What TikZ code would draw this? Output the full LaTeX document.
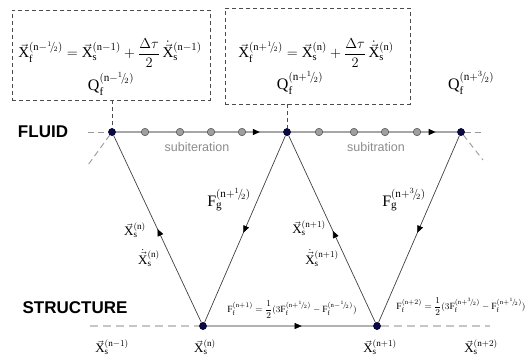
\documentclass[tikz,border=0pt]{standalone}
\usepackage{amsmath}
\usepackage{fontspec}
\setmainfont{Liberation Serif}
\setsansfont{Liberation Sans}
\usetikzlibrary{arrows.meta,decorations.markings}
\newcommand\vX{\vec{\mathrm{X}}}
\newcommand\dX{\dot{\vec{\mathrm{X}}}}
\newcommand\fr[2]{{}^{#1}\!/\!{}_{#2}}
\newcommand\nn{\mathrm{n}}
\definecolor{navy}{RGB}{10,10,70}
\begin{document}
\begin{tikzpicture}[x=1pt,y=-1pt,
  fnode/.style={circle,fill=navy,draw=navy!70!black,inner sep=0pt,minimum size=7pt},
  gdot/.style={circle,fill=gray!75,draw=gray!60!black,line width=0.5pt,inner sep=0pt,minimum size=7.5pt},
  dbox/.style={draw=black!70,dashed,dash pattern=on 4pt off 3pt,line width=0.8pt},
  dline/.style={draw=gray!80,dash pattern=on 6pt off 4pt,line width=0.9pt},
  sdline/.style={draw=gray!45,dash pattern=on 8pt off 5pt,line width=1.8pt},
  conn/.style={draw=black!75,line width=0.7pt},
  midarrow/.style={postaction={decorate},decoration={markings,mark=at position #1 with {\arrow[black]{Triangle[length=7pt,width=6pt]}}}},
  lbl/.style={font=\fontsize{13}{15}\selectfont,inner sep=0pt},
  eqs/.style={font=\fontsize{15}{17}\selectfont,inner sep=0pt},
  qs/.style={font=\fontsize{16}{18}\selectfont,inner sep=0pt},
  sml/.style={font=\fontsize{9.5}{11}\selectfont,inner sep=0pt},
  hdr/.style={font=\sffamily\bfseries\fontsize{17}{19}\selectfont,inner sep=0pt},
  sub/.style={font=\sffamily\fontsize{12.5}{14}\selectfont,text=gray!90,inner sep=0pt}
]
\useasboundingbox (0,0) rectangle (529,360);

% boxes
\node[dbox,minimum width=198pt,minimum height=90pt,anchor=north west] (B1) at (12,10) {};
\node[dbox,minimum width=185pt,minimum height=96pt,anchor=north west] (B2) at (225,8) {};
\node[eqs] (E1) at (110,53) {$\vX_{\mathrm f}^{(\nn-\fr12)} = \vX_{\mathrm s}^{(\nn-1)} + \dfrac{\Delta\tau}{2}\,\dX_{\mathrm s}^{(\nn-1)}$};
\node[eqs] (E2) at (316,53) {$\vX_{\mathrm f}^{(\nn+\fr12)} = \vX_{\mathrm s}^{(\nn)} + \dfrac{\Delta\tau}{2}\,\dX_{\mathrm s}^{(\nn)}$};
\node[qs] (Q0) at (111,84) {$\mathrm{Q}_{\mathrm f}^{(\nn-\fr12)}$};
\node[qs] (Q1) at (300,83) {$\mathrm{Q}_{\mathrm f}^{(\nn+\fr12)}$};
\node[qs] (Q2) at (471,83) {$\mathrm{Q}_{\mathrm f}^{(\nn+\fr32)}$};

% headers
\node[hdr] (FL) at (43,132) {FLUID};
\node[hdr] (ST) at (75,308) {STRUCTURE};

% main nodes
\node[fnode] (F0) at (112,132) {};
\node[fnode] (F1) at (287,132) {};
\node[fnode] (F2) at (461,132) {};
\node[fnode] (S0) at (203,326) {};
\node[fnode] (S1) at (377,326) {};

\coordinate (B1b) at (112,100);
\coordinate (B2b) at (287,104);
\draw[dbox] (B1b) -- (F0);
\draw[dbox] (B2b) -- (F1);

% dashed extensions
\coordinate (FLa) at (88,132);
\coordinate (FLb) at (482,132);
\coordinate (FDa) at (88,165);
\coordinate (FDb) at (483,160);
\coordinate (SLa) at (90,326);
\coordinate (SLb) at (490,326);
\draw[dline] (FLa) -- (F0);
\draw[dline] (F2) -- (FLb);
\draw[dline] (F0) -- (FDa);
\draw[dline] (F2) -- (FDb);
\draw[sdline] (SLa) -- (S0);
\draw[sdline] (S1) -- (SLb);

% fluid lines
\draw[draw=gray!70,line width=1.2pt,midarrow=0.86] (F0) -- (F1);
\draw[draw=gray!70,line width=1.2pt,midarrow=0.87] (F1) -- (F2);
\foreach \x/\n in {145/a1,180/a2,211/a3,242/a4,319/b1,354/b2,385/b3,417/b4}
  \node[gdot] (\n) at (\x,132) {};
\node[fnode] at (F0) {};
\node[fnode] at (F1) {};
\node[fnode] at (F2) {};
\node[sub] (SU1) at (197,147) {subiteration};
\node[sub] (SU2) at (376,147) {subitration};

% structure line
\draw[draw=gray!60,line width=1.8pt] (S0) -- (S1);
\draw[draw=none,midarrow=0.57] (S0) -- (S1);

% zigzag
\draw[conn,midarrow=0.5] (S0) -- (F0);
\draw[conn,midarrow=0.52] (F1) -- (S0);
\draw[conn,midarrow=0.49] (S1) -- (F1);
\draw[conn,midarrow=0.52] (F2) -- (S1);
\node[fnode] at (S0) {};
\node[fnode] at (S1) {};

% labels
\node[lbl] (L1) at (135,230) {$\vX_{\mathrm s}^{(\nn)}$};
\node[lbl] (L2) at (149,258) {$\dX_{\mathrm s}^{(\nn)}$};
\node[qs] (L3) at (229,200) {$\mathrm{F}_{\mathrm g}^{(\nn+\fr12)}$};
\node[lbl] (L4) at (309,228) {$\vX_{\mathrm s}^{(\nn+1)}$};
\node[lbl] (L5) at (322,258) {$\dX_{\mathrm s}^{(\nn+1)}$};
\node[qs] (L6) at (404,200) {$\mathrm{F}_{\mathrm g}^{(\nn+\fr32)}$};
\node[sml] (P1) at (292,310) {$\mathrm{F}_{\mathrm f}^{(\nn+1)}=\dfrac12(3\mathrm{F}_{\mathrm f}^{(\nn+\fr12)}-\mathrm{F}_{\mathrm f}^{(\nn-\fr12)})$};
\node[sml] (P2) at (461,307) {$\mathrm{F}_{\mathrm f}^{(\nn+2)}=\dfrac12(3\mathrm{F}_{\mathrm f}^{(\nn+\fr32)}-\mathrm{F}_{\mathrm f}^{(\nn+\fr12)})$};
\node[lbl] (X0) at (112,347) {$\vX_{\mathrm s}^{(\nn-1)}$};
\node[lbl] (X1) at (205,347) {$\vX_{\mathrm s}^{(\nn)}$};
\node[lbl] (X2) at (380,347) {$\vX_{\mathrm s}^{(\nn+1)}$};
\node[lbl] (X3) at (481,347) {$\vX_{\mathrm s}^{(\nn+2)}$};
\end{tikzpicture}
\end{document}
